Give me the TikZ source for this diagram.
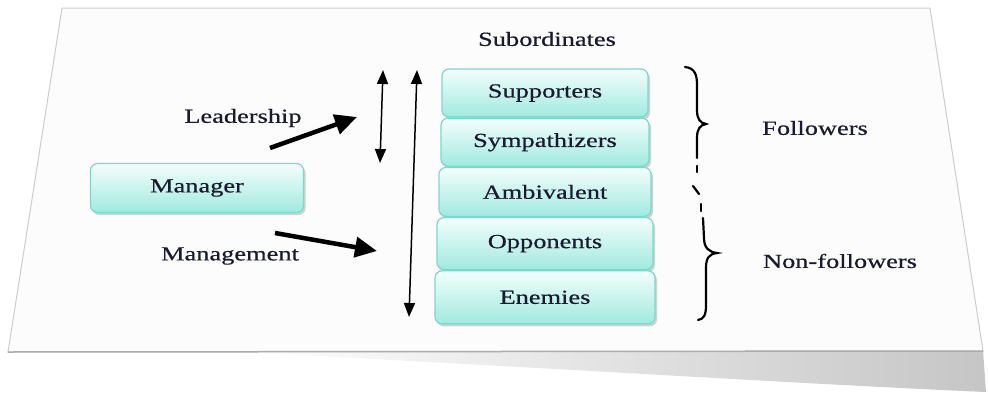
\documentclass[tikz,border=0pt]{standalone}
\usepackage{fontspec}
\setmainfont[FakeStretch=1.32,FakeBold=0.5]{Liberation Serif}
\usetikzlibrary{arrows.meta,positioning,shadows}
\definecolor{boxtop}{HTML}{F4FEFC}
\definecolor{boxbot}{HTML}{9FEADF}
\definecolor{boxline}{HTML}{7FD6CA}
\definecolor{inkblue}{HTML}{1A1A30}
\tikzset{
  group/.style={draw=boxline, line width=1.2pt, rounded corners=7pt, top color=boxtop, bottom color=boxbot,
    inner sep=0pt, drop shadow={opacity=0.35, shadow xshift=2pt, shadow yshift=-2.5pt}},
  thinarrow/.style={{Triangle[length=14pt,width=11pt]}-{Triangle[length=14pt,width=11pt]}, line width=1.5pt},
  fatarrow/.style={-{Triangle[length=22pt,width=20pt]}, line width=4.5pt},
  brace/.style={line width=2.2pt, line cap=round}
}
\begin{document}
\begin{tikzpicture}[x=1pt,y=-1pt,every node/.style={font=\fontsize{20}{24}\selectfont, text=inkblue}]
\useasboundingbox (0,0) rectangle (988,394);
\shade[left color=white, right color=gray!45] (240,352) -- (983,350) -- (986,392) .. controls (800,384) and (520,366) .. (240,352) -- cycle;
\draw[draw=gray!40, fill=gray!2, line width=1pt] (62,8) -- (930,8) -- (983,351) -- (8,352) -- cycle;
\draw[gray!65, line width=1.5pt] (8,352) -- (983,351);

\node[group, minimum width=213pt, minimum height=49pt] (manager) at (197,188) {Manager};
\node[group, minimum width=206pt, minimum height=48pt] (supp) at (545,93) {Supporters};
\node[group, minimum width=208pt, minimum height=48pt, below=0pt of supp] (symp) {Sympathizers};
\node[group, minimum width=212pt, minimum height=49pt, below=0pt of symp] (ambi) {Ambivalent};
\node[group, minimum width=216pt, minimum height=52pt, below=0pt of ambi] (oppo) {Opponents};
\node[group, minimum width=220pt, minimum height=53pt, below=0pt of oppo] (enem) {Enemies};

\node (subs) at (547,39) {Subordinates};
\node (lead) at (243,118) {Leadership};
\node (mgmt) at (230,256) {Management};
\node (foll) at (815,128) {Followers};
\node (nonfoll) at (840,261) {Non-followers};

\coordinate (lead start) at (270,148);
\coordinate (lead end) at (357,117);
\coordinate (mgmt start) at (275,233);
\coordinate (mgmt end) at (377,251);
\coordinate (short top) at (383,70);
\coordinate (short bot) at (380,163);
\coordinate (long top) at (417,70);
\coordinate (long bot) at (409,317);

\draw[fatarrow] (lead start) -- (lead end);
\draw[fatarrow] (mgmt start) -- (mgmt end);
\draw[thinarrow] (short top) -- (short bot);
\draw[thinarrow] (long top) -- (long bot);

\draw[brace] (685,67) .. controls (695,68) and (697,75) .. (697,85) -- (697,110)
  .. controls (697,119) and (700,123) .. (706,124) .. controls (700,125) and (697,129) .. (697,138) -- (697,158);
\draw[brace] (697,166) -- (697,172);
\draw[brace] (693,186) -- (699,194);
\draw[brace] (701,204) -- (701,211);
\draw[brace] (703,218) -- (704,238) .. controls (704,248) and (709,252) .. (717,253)
  .. controls (709,254) and (706,258) .. (706,268) -- (706,305) .. controls (706,315) and (704,319) .. (698,320);
\end{tikzpicture}
\end{document}
